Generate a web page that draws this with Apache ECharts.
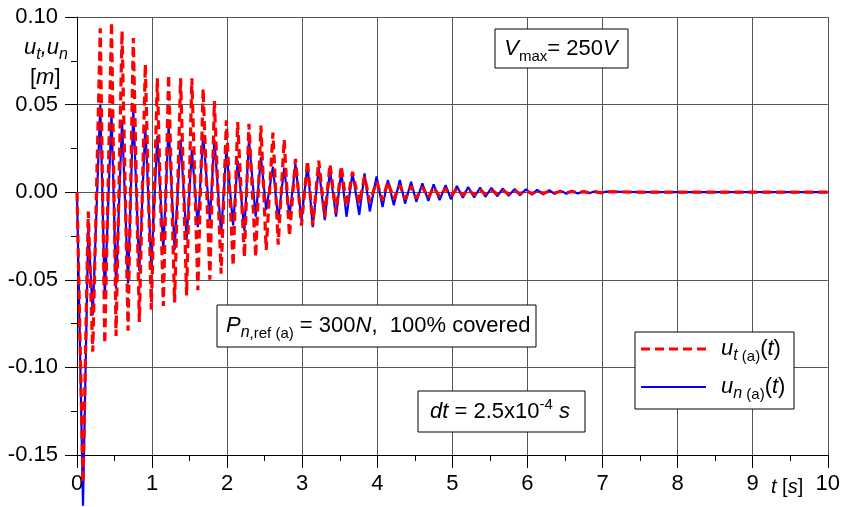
<!DOCTYPE html>
<html>
<head>
<meta charset="utf-8">
<script src="https://cdn.jsdelivr.net/npm/echarts@6/dist/echarts.min.js"></script>
<style>
html,body{margin:0;padding:0;background:#fff;}
#c{width:843px;height:507px;}
</style>
</head>
<body>
<div id="c"></div>
<script>
// Extremum times [s]
const timeS = [
  0, 0.08, 0.15, 0.21, 0.31, 0.37, 0.46, 0.52, 0.60, 0.68,
  0.75, 0.83, 0.91, 0.99, 1.07, 1.15, 1.22, 1.30, 1.38, 1.46,
  1.53, 1.61, 1.68, 1.77, 1.83, 1.92, 1.99, 2.08, 2.14, 2.23,
  2.29, 2.38, 2.45, 2.52, 2.61, 2.68, 2.76, 2.83, 2.91, 2.99,
  3.07, 3.14, 3.22, 3.30, 3.37, 3.45, 3.52, 3.59, 3.67, 3.76,
  3.83, 3.90, 3.99, 4.07, 4.14, 4.22, 4.30, 4.37, 4.45, 4.52,
  4.60, 4.68, 4.75, 4.83, 4.91, 4.98, 5.06, 5.14, 5.21, 5.29,
  5.37, 5.44, 5.52, 5.60, 5.67, 5.75, 5.83, 5.90, 5.98, 6.06,
  6.13, 6.21, 6.29, 6.36, 6.44, 6.52, 6.59, 6.67, 6.75, 6.82,
  6.90, 6.98, 7.05, 7.5, 10
];
// u_t(a)(t) [m]
const utValues = [
  0, -0.166, -0.011, -0.091, 0.0935, -0.0865, 0.097, -0.082, 0.092, -0.079,
  0.088, -0.074, 0.073, -0.067, 0.065, -0.065, 0.067, -0.063, 0.065, -0.059,
  0.065, -0.056, 0.059, -0.050, 0.052, -0.0465, 0.041, -0.042, 0.040, -0.037,
  0.039, -0.037, 0.038, -0.033, 0.034, -0.030, 0.030, -0.025, 0.019, -0.019,
  0.018, -0.019, 0.018, -0.014, 0.016, -0.012, 0.015, -0.0084, 0.0116, -0.0065,
  0.009, -0.0055, 0.006, -0.0046, 0.006, -0.004, 0.004, -0.004, 0.0035, -0.0035,
  0.003, -0.003, 0.0028, -0.0025, 0.0022, -0.002, 0.002, -0.0018, 0.0016, -0.0015,
  0.0014, -0.0013, 0.0012, -0.0011, 0.001, -0.001, 0.0009, -0.0008, 0.0008, -0.0007,
  0.0006, -0.0006, 0.0005, -0.0005, 0.0004, -0.0004, 0.0004, -0.0003, 0.0003, -0.0003,
  0.0002, -0.0002, 0.0002, 0, 0
];
// u_n(a)(t) [m]
const unValues = [
  0, -0.179, -0.02, -0.07, 0.050, -0.060, 0.045, -0.055, 0.041, -0.052,
  0.047, -0.045, 0.038, -0.043, 0.032, -0.033, 0.038, -0.033, 0.030, -0.027,
  0.024, -0.020, 0.033, -0.016, 0.030, -0.024, 0.024, -0.019, 0.018, -0.022,
  0.030, -0.014, 0.020, -0.010, 0.0145, -0.016, 0.014, -0.014, 0.016, -0.016,
  0.016, -0.020, 0.014, -0.016, 0.0126, -0.014, 0.012, -0.014, 0.011, -0.013,
  0.0107, -0.011, 0.009, -0.0084, 0.0069, -0.0075, 0.007, -0.0065, 0.006, -0.0055,
  0.005, -0.005, 0.0045, -0.0045, 0.004, -0.004, 0.0035, -0.0032, 0.003, -0.003,
  0.0027, -0.0026, 0.0024, -0.0023, 0.0021, -0.002, 0.0018, -0.0017, 0.0016, -0.0014,
  0.0013, -0.0012, 0.0011, -0.001, 0.0009, -0.0009, 0.0008, -0.0007, 0.0006, -0.0006,
  0.0005, -0.0005, 0.0004, 0, 0
];
const xTicks = [0, 1, 2, 3, 4, 5, 6, 7, 8, 9, 10];
const yTicks = [-0.15, -0.10, -0.05, 0.00, 0.05, 0.10];

const FONT = '"Liberation Sans", Arial, sans-serif';
const rich = {
  i: {fontFamily: FONT, fontSize: 22, fontStyle: 'italic', lineHeight: 30, verticalAlign: 'middle', color: '#000'},
  n: {fontFamily: FONT, fontSize: 22, lineHeight: 30, verticalAlign: 'middle', color: '#000'},
  s: {fontFamily: FONT, fontSize: 15, lineHeight: 17, verticalAlign: 'bottom', color: '#000'},
  si: {fontFamily: FONT, fontSize: 16, fontStyle: 'italic', lineHeight: 17, verticalAlign: 'bottom', color: '#000'},
  sup: {fontFamily: FONT, fontSize: 15, lineHeight: 17, verticalAlign: 'top', color: '#000'},
  ai: {fontFamily: FONT, fontSize: 20, fontStyle: 'italic', lineHeight: 28, verticalAlign: 'middle', color: '#000'},
  an: {fontFamily: FONT, fontSize: 20, lineHeight: 28, verticalAlign: 'middle', color: '#000'}
};

const utData = timeS.map((t, k) => [t, utValues[k]]);
const unData = timeS.map((t, k) => [t, unValues[k]]);

const chart = echarts.init(document.getElementById('c'), null, {renderer: 'canvas'});

function box(x, y, w, h) {
  return {type: 'rect', shape: {x: x, y: y, width: w, height: h},
    style: {fill: '#fff', stroke: '#000', lineWidth: 1}, z: 100};
}
function txt(x, y, text, align) {
  return {type: 'text', x: x, y: y, z: 101,
    style: {text: text, rich: rich, align: align || 'left', verticalAlign: 'middle', fill: '#000'}};
}

chart.setOption({
  animation: false,
  backgroundColor: '#fff',
  grid: {left: 77, right: 15, top: 17, bottom: 52, containLabel: false},
  xAxis: {
    type: 'value', min: 0, max: 10, interval: 1,
    axisLine: {show: true, onZero: false, lineStyle: {color: '#000', width: 1}},
    axisTick: {show: true, length: 13, lineStyle: {color: '#000'}},
    minorTick: {show: true, splitNumber: 2, length: 6, lineStyle: {color: '#000'}},
    splitLine: {show: true, lineStyle: {color: '#555', width: 1}},
    axisLabel: {color: '#000', fontSize: 22, fontFamily: FONT, margin: 18,
      formatter: v => (xTicks.indexOf(v) >= 0 ? String(v) : '')}
  },
  yAxis: {
    type: 'value', min: -0.15, max: 0.10, interval: 0.05,
    axisLine: {show: true, onZero: false, lineStyle: {color: '#000', width: 1}},
    axisTick: {show: true, length: 12, lineStyle: {color: '#000'}},
    minorTick: {show: true, splitNumber: 2, length: 6, lineStyle: {color: '#000'}},
    splitLine: {show: true, lineStyle: {color: '#555', width: 1}},
    axisLabel: {color: '#000', fontSize: 22, fontFamily: FONT, margin: 19,
      formatter: v => {
        const m = yTicks.find(t => Math.abs(t - v) < 1e-9);
        return m === undefined ? '' : m.toFixed(2);
      }}
  },
  series: [
    {name: 'un', type: 'line', data: unData, showSymbol: false, clip: false,
      lineStyle: {color: '#0000ff', width: 2.2}, z: 3},
    {name: 'ut', type: 'line', data: utData, showSymbol: false, clip: false,
      lineStyle: {color: '#ff0000', width: 3.2, type: [9, 5]}, z: 4}
  ],
  graphic: [
    // y-axis name
    txt(24, 48, '{i|u}{si|t}{i|,u}{si|n}'),
    txt(30, 78, '{n|[}{i|m}{n|]}'),
    // x-axis name
    txt(771, 487, '{ai|t}{an| [}{ai|s}{an|]}'),
    // Vmax box
    box(495, 29, 133, 39),
    txt(561, 49, '{i|V}{s|max}{n|= 250}{i|V}', 'center'),
    // P box
    box(217, 305, 319, 42),
    txt(226, 326, '{i|P}{si|n}{s|,ref (a)}{n| = 300}{i|N}{n|,  100% covered}'),
    // dt box
    box(418, 391, 167, 41),
    txt(430, 412, '{i|dt}{n| = 2.5x10}{sup|-4}{n| }{i|s}'),
    // legend
    box(635, 332, 159, 77),
    {type: 'line', z: 101, shape: {x1: 641, y1: 349, x2: 706, y2: 349},
      style: {stroke: '#ff0000', lineWidth: 3, lineDash: [9, 5]}},
    {type: 'line', z: 101, shape: {x1: 641, y1: 387, x2: 706, y2: 387},
      style: {stroke: '#0000ff', lineWidth: 2}},
    txt(721, 349, '{i|u}{si|t}{s| (a)}{n|(}{i|t}{n|)}'),
    txt(721, 387, '{i|u}{si|n}{s| (a)}{n|(}{i|t}{n|)}')
  ]
});
</script>
</body>
</html>
